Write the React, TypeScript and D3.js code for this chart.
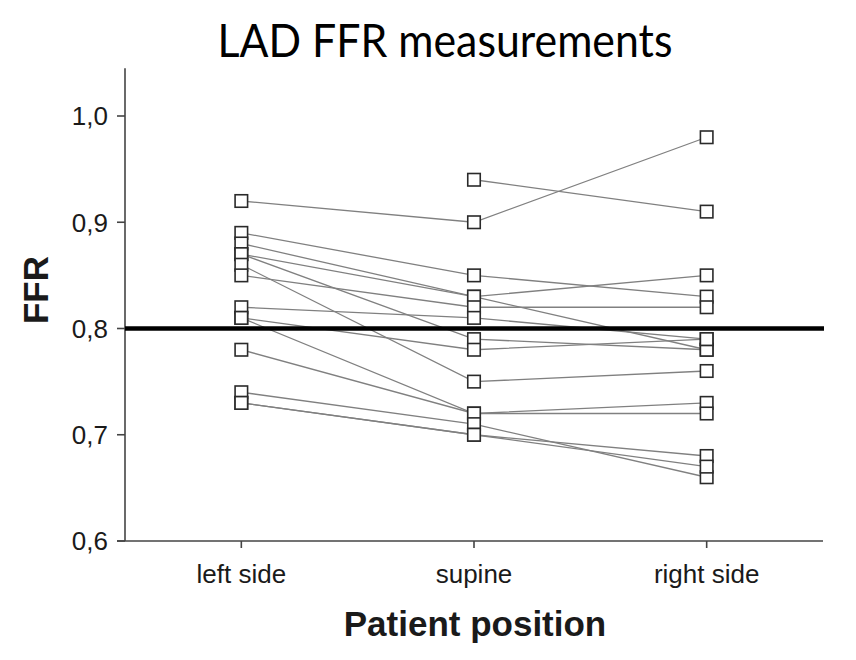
import React from "react";
import * as d3 from "d3";

const categories = ["left side", "supine", "right side"];
// one entry per patient; null = not measured
const leftSide = [0.92, null, 0.89, 0.88, 0.87, 0.87, 0.86, 0.85, 0.82, 0.81, 0.81, 0.78, 0.74, 0.73, 0.73];
const supine = [0.9, 0.94, 0.85, 0.83, 0.83, 0.79, 0.75, 0.82, 0.81, 0.78, 0.72, 0.72, 0.71, 0.7, 0.7];
const rightSide = [0.98, 0.91, 0.83, 0.85, 0.78, 0.78, 0.76, 0.82, 0.79, 0.79, 0.73, 0.72, 0.66, 0.68, 0.67];
const yTicks = [0.6, 0.7, 0.8, 0.9, 1.0];
const threshold = 0.8;

export default function App() {
  const W = 856, H = 660;
  const x = d3.scalePoint<string>().domain(categories).range([125, 823]).padding(0.5);
  const y = d3.scaleLinear().domain([0.6, 1.0]).range([541, 116]);
  const series = [leftSide, supine, rightSide];
  const patients = leftSide.map((_, i) => series.map((s, j) => ({ cat: categories[j], v: s[i] })));
  const line = d3
    .line<{ cat: string; v: number | null }>()
    .defined((d) => d.v != null)
    .x((d) => x(d.cat)!)
    .y((d) => y(d.v as number));
  const fmt = (v: number) => v.toFixed(1).replace(".", ",");
  const sq = 12.5;
  const axisColor = "#444";
  const textColor = "#1a1a1a";
  const yTop = y(1.045);

  return (
    <svg width={W} height={H} style={{ display: "block", position: "absolute", left: 0, top: 0, background: "#fff" }}>
      <text x={445} y={57} textAnchor="middle" fontFamily="Lato, 'Open Sans', sans-serif" fontSize={46} fill="#000" textLength={455} lengthAdjust="spacingAndGlyphs">
        LAD FFR measurements
      </text>
      {/* axes */}
      <line x1={x.range()[0]} x2={x.range()[0]} y1={yTop} y2={y(0.6)} stroke={axisColor} strokeWidth={1.6} />
      <line x1={117} x2={823} y1={y(0.6)} y2={y(0.6)} stroke={axisColor} strokeWidth={1.6} />
      {yTicks.map((t) => (
        <g key={t}>
          <line x1={117} x2={125} y1={y(t)} y2={y(t)} stroke={axisColor} strokeWidth={1.6} />
          <text x={108} y={y(t)} dy="0.36em" textAnchor="end" fontFamily="'Liberation Sans', Arial, sans-serif" fontSize={26} fill={textColor}>
            {fmt(t)}
          </text>
        </g>
      ))}
      {categories.map((c) => (
        <g key={c}>
          <line x1={x(c)} x2={x(c)} y1={y(0.6)} y2={y(0.6) + 7} stroke={axisColor} strokeWidth={1.6} />
          <text x={x(c)} y={583} textAnchor="middle" fontFamily="'Liberation Sans', Arial, sans-serif" fontSize={26} fill={textColor}>
            {c}
          </text>
        </g>
      ))}
      <text x={475} y={636} textAnchor="middle" fontFamily="'Liberation Sans', Arial, sans-serif" fontSize={35} fontWeight="bold" fill={textColor}>
        Patient position
      </text>
      <text transform={`translate(48,290) rotate(-90)`} textAnchor="middle" fontFamily="'Liberation Sans', Arial, sans-serif" fontSize={35} fontWeight="bold" fill={textColor}>
        FFR
      </text>
      {/* patient lines */}
      {patients.map((p, i) => (
        <path key={i} d={line(p) || ""} fill="none" stroke="#808080" strokeWidth={1.3} />
      ))}
      {/* threshold line */}
      <line x1={125} x2={824} y1={y(threshold)} y2={y(threshold)} stroke="#000" strokeWidth={4.5} />
      {/* markers */}
      {series.map((s, j) =>
        s.map((v, i) =>
          v == null ? null : (
            <rect
              key={`${j}-${i}`}
              x={x(categories[j])! - sq / 2}
              y={y(v) - sq / 2}
              width={sq}
              height={sq}
              fill="#fff"
              stroke="#2a2a2a"
              strokeWidth={1.6}
            />
          )
        )
      )}
    </svg>
  );
}
